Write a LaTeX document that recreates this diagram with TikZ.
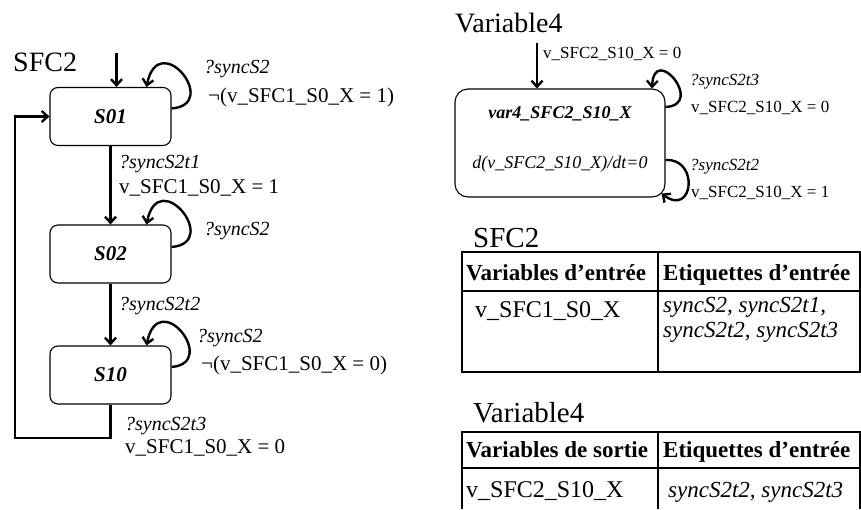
\documentclass[tikz,border=0pt]{standalone}
\usepackage{fontspec}
\setmainfont{Liberation Serif}
\usetikzlibrary{arrows.meta}
\tikzset{
  >={Straight Barb[length=6pt, width=11pt]},
  every node/.style={inner sep=0pt},
  statebox/.style={
    rectangle, rounded corners=8pt, draw, line width=1.1pt,
    minimum width=121pt, minimum height=58pt,
    font=\fontsize{21}{24}\selectfont\bfseries\itshape
  },
  varbox/.style={
    rectangle, rounded corners=13pt, draw, line width=1.1pt,
    minimum width=210pt, minimum height=108pt
  },
  flow/.style={->, line width=2.4pt},
  title/.style={anchor=base west, font=\fontsize{28}{32}\selectfont},
  tabtitle/.style={anchor=base west, font=\fontsize{29}{32}\selectfont},
  guard/.style={anchor=base west, font=\fontsize{21}{23}\selectfont},
  sync/.style={anchor=base west, font=\fontsize{20}{22}\selectfont\itshape},
  vguard/.style={anchor=base west, font=\fontsize{17}{19}\selectfont},
  vsync/.style={anchor=base west, font=\fontsize{17}{19}\selectfont\itshape},
  tabline/.style={line width=1.4pt},
  tabhead/.style={anchor=base west, font=\fontsize{23}{26}\selectfont\bfseries},
  tabcell/.style={anchor=base west, font=\fontsize{24}{27}\selectfont},
  tabsync/.style={anchor=base west, font=\fontsize{23}{26}\selectfont\itshape}
}

\begin{document}
\begin{tikzpicture}[x=1pt, y=-1pt]
\useasboundingbox (0,0) rectangle (861,509);

% columns
\def\xst{110.5}   % SFC2 states
\def\xvar{560}    % Variable4 state
\def\xtab{462}    % table left
\def\xsep{658}    % table column rule
\def\xtabr{860}   % table right

% ---------------- SFC2 automaton ----------------
\node[title] (tSFC) at (13, 71) {SFC2};

\node[statebox] (S01) at (\xst, 116.5) {S01};
\node[statebox] (S02) at (\xst, 254)   {S02};
\node[statebox] (S10) at (\xst, 375)   {S10};

\coordinate (init) at (116.5, 53);
\coordinate (ret)  at (15, 438);

% initial arrow
\draw[flow] (init) -- ([xshift=6pt]S01.north);

% self-loops ?syncS2
\draw[flow] ([yshift=8pt]S01.east) .. controls +(50,-4) and +(12,-60) .. ([xshift=36pt]S01.north);
\draw[flow] ([yshift=7pt]S02.east) .. controls +(50,-4) and +(12,-60) .. ([xshift=36pt]S02.north);
\draw[flow] ([yshift=8pt]S10.east) .. controls +(48,-4) and +(12,-60) .. ([xshift=36pt]S10.north);

\node[sync]  (g01a) at (204, 73)  {?syncS2};
\node[guard] (g01b) at (208, 102) {¬(v\_SFC1\_S0\_X = 1)};
\node[sync]  (g02a) at (204, 235) {?syncS2};
\node[sync]  (g10a) at (197, 342) {?syncS2};
\node[guard] (g10b) at (201, 370) {¬(v\_SFC1\_S0\_X = 0)};

% transitions
\draw[flow] (S01) -- (S02);
\node[sync]  (t1a) at (119, 168) {?syncS2t1};
\node[guard] (t1b) at (119, 193) {v\_SFC1\_S0\_X = 1};

\draw[flow] (S02) -- (S10);
\node[sync]  (t2a) at (119, 310) {?syncS2t2};

\draw[flow] (S10.south) |- (ret) |- (S01.west);
\node[sync]  (t3a) at (125, 430) {?syncS2t3};
\node[guard] (t3b) at (125, 453) {v\_SFC1\_S0\_X = 0};

% ---------------- Variable4 automaton ----------------
\node[title] (tVar) at (455, 32) {Variable4};

\node[varbox] (V4) at (\xvar, 143) {};
\node[anchor=base, font=\fontsize{18}{20}\selectfont\bfseries\itshape] (V4name) at (\xvar, 118) {var4\_SFC2\_S10\_X};
\node[anchor=base, font=\fontsize{18}{20}\selectfont\itshape] (V4flow) at (\xvar, 168) {d(v\_SFC2\_S10\_X)/dt=0};

\coordinate (vinit) at (537, 43);
\draw[flow] (vinit) -- ([xshift=-23pt]V4.north);
\node[vguard] (vi) at (543, 58) {v\_SFC2\_S10\_X = 0};

\draw[flow] ([yshift=36pt]V4.east) .. controls +(40,-2) and +(2,-46) .. ([xshift=92pt]V4.north);
\node[vsync]  (v3a) at (690, 85)  {?syncS2t3};
\node[vguard] (v3b) at (691, 112) {v\_SFC2\_S10\_X = 0};

\draw[flow] ([yshift=-17pt]V4.east) .. controls +(34,-2) and +(32,24) .. ([xshift=-4pt, yshift=4pt]V4.south east);
\node[vsync]  (v2a) at (690, 170) {?syncS2t2};
\node[vguard] (v2b) at (691, 197) {v\_SFC2\_S10\_X = 1};

% ---------------- tables ----------------
\node[tabtitle] (ttab1) at (473, 247) {SFC2};
\draw[tabline] (\xtab, 252) rectangle (\xtabr, 372);
\draw[tabline] (\xtab, 291) -- (\xtabr, 291);
\draw[tabline] (\xsep, 252) -- (\xsep, 372);
\node[tabhead] (h1a) at (466, 280) {Variables d'entrée};
\node[tabhead] (h1b) at (663, 280) {Etiquettes d'entrée};
\node[tabcell] (c1a) at (475, 317) {v\_SFC1\_S0\_X};
\node[tabsync] (c1b) at (663, 312) {syncS2, syncS2t1,};
\node[tabsync] (c1c) at (663, 337) {syncS2t2, syncS2t3};

\node[tabtitle] (ttab2) at (473, 422) {Variable4};
\draw[tabline] (\xtab, 509) -- (\xtab, 432) -- (\xtabr, 432) -- (\xtabr, 509);
\draw[tabline] (\xtab, 468) -- (\xtabr, 468);
\draw[tabline] (\xsep, 432) -- (\xsep, 509);
\node[tabhead] (h2a) at (466, 457) {Variables de sortie};
\node[tabhead] (h2b) at (663, 457) {Etiquettes d'entrée};
\node[tabcell] (c2a) at (466, 497) {v\_SFC2\_S10\_X};
\node[tabsync] (c2b) at (668, 497) {syncS2t2, syncS2t3};

\end{tikzpicture}
\end{document}
